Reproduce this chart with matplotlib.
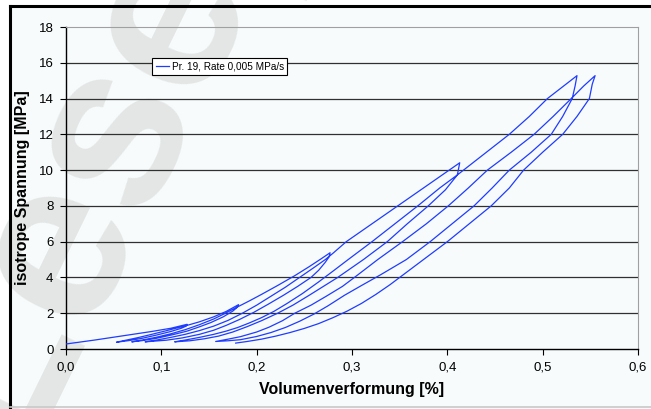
import matplotlib
matplotlib.use("Agg")
import matplotlib.pyplot as plt
from matplotlib.lines import Line2D
from matplotlib.ticker import FuncFormatter

plt.rcParams['font.family'] = ['Liberation Sans', 'DejaVu Sans']

# strain [%] / stress [MPa] of the test, branch by branch
load0_x = [0.000, 0.030, 0.060, 0.090, 0.110, 0.127]
load0_y = [0.28, 0.50, 0.74, 0.98, 1.16, 1.38]
unl1_x = [0.127, 0.126, 0.121, 0.110, 0.095, 0.080, 0.066, 0.053]
unl1_y = [1.38, 1.28, 1.16, 0.98, 0.78, 0.60, 0.47, 0.38]
rel1_x = [0.053, 0.062, 0.075, 0.090, 0.105, 0.118, 0.127, 0.140, 0.155, 0.168, 0.181]
rel1_y = [0.38, 0.48, 0.63, 0.82, 1.02, 1.20, 1.32, 1.52, 1.80, 2.10, 2.48]
unl2_x = [0.181, 0.179, 0.175, 0.165, 0.152, 0.140, 0.127, 0.112, 0.095, 0.080, 0.069]
unl2_y = [2.48, 2.30, 2.12, 1.80, 1.48, 1.24, 1.00, 0.80, 0.60, 0.47, 0.40]
rel2_x = [0.069, 0.080, 0.095, 0.110, 0.125, 0.140, 0.155, 0.168, 0.178, 0.192, 0.205,
          0.222, 0.240, 0.255, 0.267, 0.277]
rel2_y = [0.40, 0.50, 0.66, 0.85, 1.08, 1.36, 1.68, 2.02, 2.30, 2.68, 3.05,
          3.55, 4.10, 4.60, 5.02, 5.38]
unl3_x = [0.277, 0.276, 0.272, 0.265, 0.257, 0.243, 0.228, 0.212, 0.197, 0.182, 0.168,
          0.155, 0.140, 0.122, 0.105, 0.083]
unl3_y = [5.38, 5.15, 4.85, 4.40, 4.00, 3.50, 3.00, 2.50, 2.05, 1.65, 1.32,
          1.05, 0.82, 0.62, 0.49, 0.40]
rel3_x = [0.083, 0.095, 0.110, 0.125, 0.140, 0.155, 0.170, 0.185, 0.200, 0.215, 0.230,
          0.245, 0.260, 0.272, 0.280, 0.294, 0.321, 0.348, 0.375, 0.402, 0.413]
rel3_y = [0.40, 0.50, 0.65, 0.82, 1.03, 1.28, 1.60, 2.00, 2.45, 2.95, 3.45,
          4.00, 4.55, 5.00, 5.35, 6.00, 7.00, 8.00, 9.00, 10.00, 10.41]
unl4_x = [0.413, 0.4115, 0.4105, 0.398, 0.380, 0.358, 0.337, 0.312, 0.285, 0.270, 0.255,
          0.238, 0.222, 0.205, 0.190, 0.175, 0.160, 0.145, 0.130, 0.114]
unl4_y = [10.41, 10.00, 9.73, 8.90, 8.00, 7.00, 6.00, 5.00, 4.00, 3.50, 3.00,
          2.45, 2.00, 1.58, 1.25, 0.95, 0.72, 0.57, 0.46, 0.40]
rel4_x = [0.114, 0.125, 0.140, 0.155, 0.168, 0.180, 0.192, 0.205, 0.218, 0.232, 0.248,
          0.265, 0.280, 0.296, 0.321, 0.345, 0.369, 0.392, 0.4105, 0.417, 0.441, 0.465,
          0.486, 0.505, 0.522, 0.536]
rel4_y = [0.40, 0.50, 0.65, 0.82, 1.00, 1.20, 1.45, 1.75, 2.10, 2.55, 3.10,
          3.75, 4.35, 5.00, 6.00, 7.00, 8.00, 9.00, 9.73, 10.00, 11.00, 12.00,
          13.00, 14.00, 14.70, 15.28]
unl5_x = [0.536, 0.534, 0.531, 0.521, 0.509, 0.488, 0.465, 0.447, 0.428, 0.405, 0.382,
          0.357, 0.330, 0.310, 0.292, 0.275, 0.260, 0.245, 0.230, 0.215, 0.200, 0.183,
          0.170, 0.157]
unl5_y = [15.28, 14.70, 14.00, 13.00, 12.00, 11.00, 10.00, 9.00, 8.00, 7.00, 6.00,
          5.00, 4.15, 3.55, 3.00, 2.42, 1.95, 1.55, 1.20, 0.92, 0.70, 0.52,
          0.46, 0.42]
rel5_x = [0.157, 0.170, 0.183, 0.200, 0.213, 0.227, 0.240, 0.257, 0.273, 0.290, 0.305,
          0.327, 0.353, 0.378, 0.401, 0.422, 0.442, 0.467, 0.491, 0.511, 0.530, 0.543,
          0.555]
rel5_y = [0.42, 0.55, 0.69, 0.95, 1.22, 1.58, 2.00, 2.45, 2.95, 3.50, 4.10,
          5.00, 6.00, 7.00, 8.00, 9.00, 10.00, 11.00, 12.00, 13.00, 14.00, 14.70,
          15.28]
unl6_x = [0.555, 0.552, 0.549, 0.536, 0.521, 0.500, 0.480, 0.465, 0.446, 0.423, 0.400,
          0.375, 0.355, 0.340, 0.325, 0.310, 0.295, 0.280, 0.265, 0.250, 0.235, 0.220,
          0.205, 0.190, 0.178]
unl6_y = [15.28, 14.80, 14.00, 13.00, 12.00, 11.00, 10.00, 9.00, 8.00, 7.00, 6.00,
          5.00, 4.20, 3.60, 3.05, 2.55, 2.12, 1.75, 1.42, 1.15, 0.92, 0.72,
          0.55, 0.42, 0.33]

strain = (load0_x + unl1_x + rel1_x + unl2_x + rel2_x + unl3_x + rel3_x
          + unl4_x + rel4_x + unl5_x + rel5_x + unl6_x)
stress = (load0_y + unl1_y + rel1_y + unl2_y + rel2_y + unl3_y + rel3_y
          + unl4_y + rel4_y + unl5_y + rel5_y + unl6_y)

xticks = [0.0, 0.1, 0.2, 0.3, 0.4, 0.5, 0.6]
yticks = [0, 2, 4, 6, 8, 10, 12, 14, 16, 18]

fig = plt.figure(figsize=(6.51, 4.09), dpi=100, facecolor='white')
W, H = 651, 409

# light page inside the black frame
fig.patches.append(plt.Rectangle((10 / W, 0), 1, 1 - 6 / H, transform=fig.transFigure,
                                 facecolor='#f7fbfb', edgecolor='none', zorder=-10))
fig.lines.append(Line2D([10 / W, 10 / W], [0, 1 - 6 / H], transform=fig.transFigure,
                        color='black', lw=2.2))
fig.lines.append(Line2D([10 / W, 1], [1 - 6 / H, 1 - 6 / H], transform=fig.transFigure,
                        color='black', lw=2.2))
fig.lines.append(Line2D([10 / W, 1], [2 / H, 2 / H], transform=fig.transFigure,
                        color='#c8c8c8', lw=1.2))

ax = fig.add_axes([66 / W, 1 - 349 / H, (638 - 66) / W, (349 - 27) / H])
ax.set_facecolor('#f7fbfb')

# watermark, behind the grid lines
ax.text(18 / W, 1 - 452 / H, 'Leseprobe', transform=fig.transFigure, fontsize=166,
        fontweight='bold', color='#e4e6e6', rotation=64, rotation_mode='anchor',
        ha='left', va='baseline', zorder=0.5, clip_on=False)

for v in yticks[1:-1]:
    ax.axhline(v, color='#303030', lw=0.9, zorder=1)

ax.plot(strain, stress, color='#1f3cff', lw=0.9, zorder=3, label='Pr. 19, Rate 0,005 MPa/s')

ax.set_xlim(0, 0.6)
ax.set_ylim(0, 18)
ax.set_xticks(xticks)
ax.set_yticks(yticks)
ax.xaxis.set_major_formatter(FuncFormatter(lambda v, p: ('%.1f' % v).replace('.', ',')))
ax.tick_params(direction='out', length=4, width=0.8, labelsize=9.5, colors='black', pad=5)

for s in ['top', 'right']:
    ax.spines[s].set_color('#a0a0a0')
for s in ['left', 'bottom']:
    ax.spines[s].set_color('black')
    ax.spines[s].set_linewidth(1.0)

ax.set_xlabel('Volumenverformung [%]', fontsize=11.5, fontweight='bold', labelpad=6)
ax.set_ylabel('isotrope Spannung [MPa]', fontsize=11.5, fontweight='bold')
ax.yaxis.set_label_coords(-0.063, 0.5)

leg = ax.legend(loc='upper left', bbox_to_anchor=(152 / W, 1 - 58 / H),
                bbox_transform=fig.transFigure, fontsize=7.2, frameon=True, fancybox=False,
                borderaxespad=0, borderpad=0.35, handlelength=1.3, handletextpad=0.3)
leg.get_frame().set_edgecolor('black')
leg.get_frame().set_linewidth(0.8)
leg.get_frame().set_facecolor('white')
leg.get_frame().set_alpha(1)

fig.savefig('out.png', dpi=100, facecolor=fig.get_facecolor())
